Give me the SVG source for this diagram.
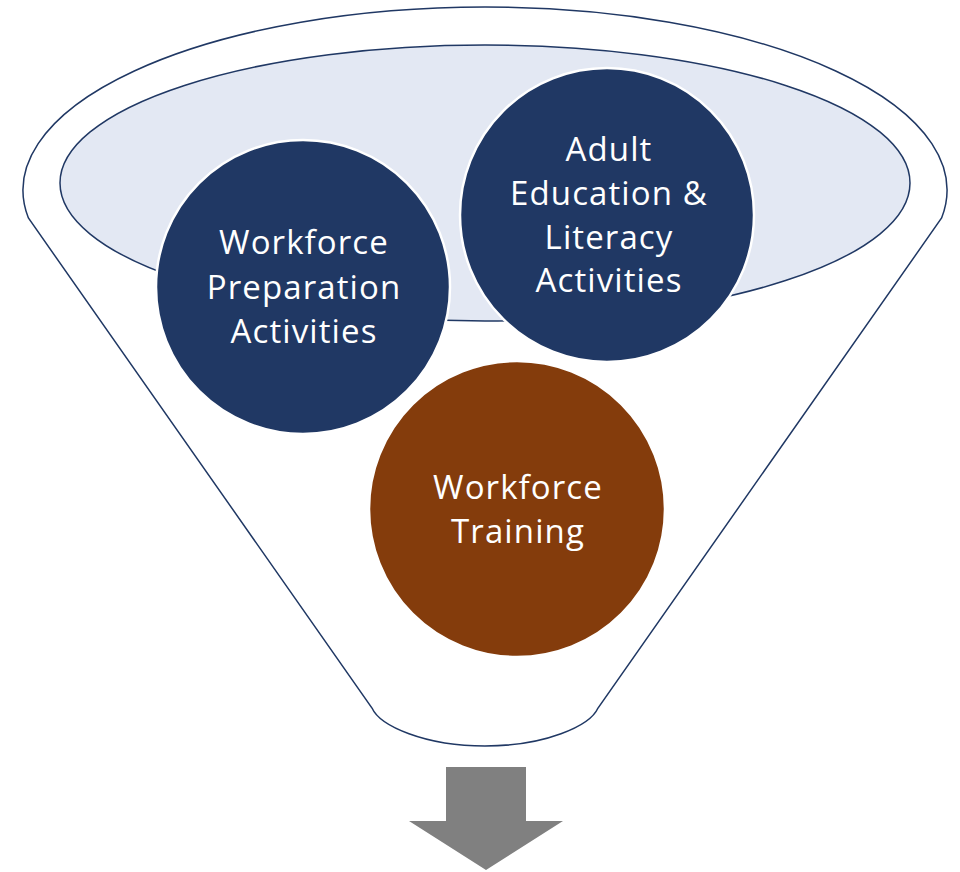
<svg xmlns="http://www.w3.org/2000/svg" width="960" height="872" viewBox="0 0 960 872">
<style>
.lbl{font-family:"Open Sans","Lato","Liberation Sans",sans-serif;font-size:33px;letter-spacing:1.1px;fill:#ffffff;text-anchor:middle}
.circ{stroke:#ffffff;stroke-width:2.5}
</style>
<rect width="960" height="872" fill="#ffffff"/>
<g id="funnel">
<path d="M 28.4 218 A 462 183 0 1 1 941.6 218 L 598 708 C 590 726 545 746 485 746 C 425 746 380 726 372 708 Z" fill="#ffffff" stroke="#203864" stroke-width="1.5"/>
<ellipse cx="485" cy="183" rx="425" ry="138" fill="#E3E8F3" stroke="#203864" stroke-width="1.5"/>
</g>
<g id="n-prep">
<circle class="circ" cx="303" cy="287" r="147" fill="#203864"/>
<text class="lbl" x="304" y="254">Workforce</text>
<text class="lbl" x="304" y="299">Preparation</text>
<text class="lbl" x="304" y="343">Activities</text>
</g>
<g id="n-adult">
<circle class="circ" cx="607" cy="215" r="147" fill="#203864"/>
<text class="lbl" x="609" y="161">Adult</text>
<text class="lbl" x="609" y="205">Education &amp;</text>
<text class="lbl" x="609" y="249">Literacy</text>
<text class="lbl" x="609" y="292">Activities</text>
</g>
<g id="n-training">
<circle class="circ" cx="517" cy="509" r="148" fill="#843C0C"/>
<text class="lbl" x="518" y="499">Workforce</text>
<text class="lbl" x="518" y="543">Training</text>
</g>
<g id="connectors">
<path d="M 446 767 L 526 767 L 526 821 L 563 821 L 486 870 L 409 821 L 446 821 Z" fill="#808080"/>
</g>
</svg>
